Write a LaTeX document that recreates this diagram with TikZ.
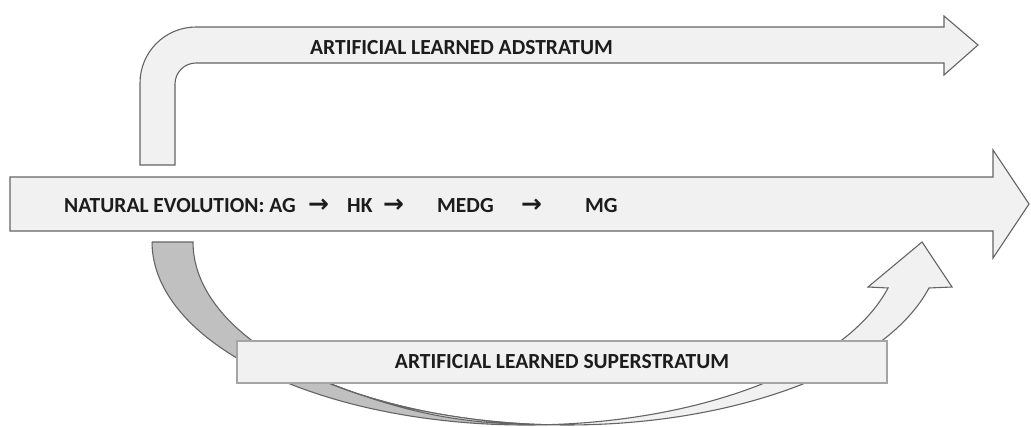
\documentclass[tikz,border=0pt]{standalone}
\usepackage{fontspec}
\setmainfont{Carlito}
\newfontfamily\arrfont{DejaVu Sans}
\newcommand{\rarr}{{\arrfont\fontsize{25pt}{25pt}\selectfont →}}
\definecolor{arrfill}{RGB}{241,241,241}
\definecolor{edgegray}{RGB}{100,100,100}
\definecolor{backfill}{RGB}{192,192,192}
\definecolor{boxedge}{RGB}{165,165,165}
\definecolor{txt}{RGB}{28,28,28}
\tikzset{
  blockarrow/.style={fill=arrfill, draw=edgegray, line width=1.1pt, line join=miter},
  backband/.style={fill=backfill, draw=edgegray, line width=1.1pt},
  lbl/.style={anchor=base west, inner sep=0pt, text=txt, font=\fontsize{21.5pt}{25pt}\selectfont\bfseries},
  labelbox/.style={fill=arrfill, draw=boxedge, line width=1.1pt, inner sep=0pt, text=txt,
    font=\fontsize{21.5pt}{25pt}\selectfont\bfseries}
}
\begin{document}
\begin{tikzpicture}[x=1pt,y=-1pt]
\useasboundingbox (0,0) rectangle (1031,426);
% main arrow
\draw[blockarrow] (10,177) -- (993,177) -- (993,150) -- (1029,204) -- (993,258) -- (993,231) -- (10,231) -- cycle;
% bent top arrow
\draw[blockarrow] (140,165) -- (140,83) arc[start angle=180, end angle=270, radius=56]
  -- (944,27) -- (944,16) -- (978,45) -- (944,75) -- (944,63) -- (196,63)
  arc[start angle=270, end angle=180, radius=21] -- (175,165) -- cycle;
% curved up arrow: back band
\draw[backband] (152,242) -- (193,242)
  arc[start angle=180, end angle=93.14, x radius=374, y radius=183]
  arc[start angle=86.86, end angle=180, x radius=374, y radius=183] -- cycle;
% curved up arrow: front band
\draw[blockarrow] (888,288)
  arc[start angle=14.56, end angle=86.86, x radius=374, y radius=183]
  arc[start angle=93.14, end angle=131.1, x radius=374, y radius=183]
  .. controls (420,420) and (480,424) .. (546.5,424.7)
  arc[start angle=93.14, end angle=14.56, x radius=374, y radius=183]
  -- (952,287) -- (922,242) -- (868,287) -- cycle;
% superstratum box
\node[labelbox, minimum width=650pt, minimum height=42pt] (super) at (562,362) {ARTIFICIAL LEARNED SUPERSTRATUM};
% texts
\node[lbl] (adstratum) at (310,54) {ARTIFICIAL LEARNED ADSTRATUM};
\node[lbl] (natural) at (64,212.5) {\makebox[244pt][l]{NATURAL EVOLUTION: AG}\makebox[39pt][l]{\rarr}\makebox[36pt][l]{HK}\makebox[54pt][l]{\rarr}\makebox[84pt][l]{MEDG}\makebox[64pt][l]{\rarr}MG};
\end{tikzpicture}
\end{document}
